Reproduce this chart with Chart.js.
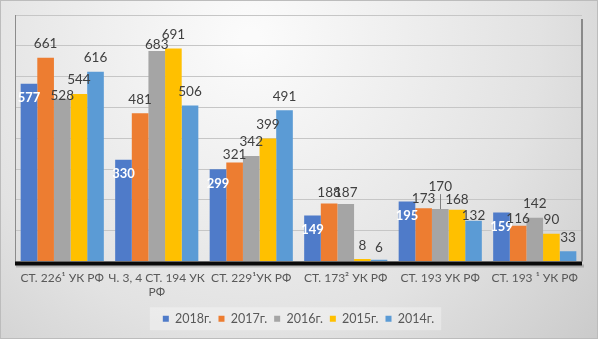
<!DOCTYPE html>
<html>
<head>
<meta charset="utf-8">
<script src="https://cdn.jsdelivr.net/npm/chart.js@4/dist/chart.umd.min.js"></script>
<style>
  html, body { margin: 0; padding: 0; background: #ffffff; }
  #wrap { width: 598px; height: 339px; position: relative; }
</style>
</head>
<body>
<div id="wrap"><canvas id="c" width="598" height="339"></canvas></div>
<script>
// ---- data ----
const categories = [
  'СТ. 226¹ УК РФ',
  ['Ч. 3, 4 СТ. 194 УК', 'РФ'],
  'СТ. 229¹УК РФ',
  'СТ. 173² УК РФ',
  'СТ. 193 УК РФ',
  'СТ. 193 ¹ УК РФ'
];
const seriesNames = ['2018г.', '2017г.', '2016г.', '2015г.', '2014г.'];
const v2018 = [577, 330, 299, 149, 195, 159];
const v2017 = [661, 481, 321, 188, 173, 116];
const v2016 = [528, 683, 342, 187, 170, 142];
const v2015 = [544, 691, 399, 8, 168, 90];
const v2014 = [616, 506, 491, 6, 132, 33];
const yTicks = [0, 100, 200, 300, 400, 500, 600, 700, 800];

// ---- style ----
const colors = ['#4F7BC9', '#ED7D31', '#A5A5A5', '#FFC000', '#5B9BD5'];
const FONT = "Lato, 'Open Sans', 'DejaVu Sans', sans-serif";
// label placement nudges in px (series index, category index); negative = moved up with leader line
const labelNudges = [
  { s: 1, c: 2, dy: 6 }, { s: 1, c: 3, dy: 3 }, { s: 1, c: 4, dy: 4 }, { s: 1, c: 5, dy: 7 },
  { s: 2, c: 0, dy: 10.5 }, { s: 2, c: 1, dy: 7.5 }, { s: 2, c: 3, dy: 3 }, { s: 2, c: 4, dy: -8 },
  { s: 3, c: 3, dy: 1 }, { s: 3, c: 4, dy: 4 },
  { s: 4, c: 3, dy: 1.5 }, { s: 4, c: 4, dy: 9 }
];

const seriesValues = [v2018, v2017, v2016, v2015, v2014];

const bgPlugin = {
  id: 'bg',
  beforeDraw(chart) {
    const { ctx, width, height } = chart;
    ctx.save();
    const g = ctx.createRadialGradient(250, 40, 10, 250, 40, 520);
    g.addColorStop(0, '#fbfbfb');
    g.addColorStop(0.55, '#e2e2e2');
    g.addColorStop(1, '#c2c2c2');
    ctx.fillStyle = g;
    ctx.fillRect(0, 0, width, height);
    ctx.strokeStyle = '#bcbcbc';
    ctx.lineWidth = 1;
    ctx.strokeRect(0.5, 0.5, width - 1, height - 1);
    // legend box
    const lg = chart.legend;
    if (lg && lg.legendHitBoxes && lg.legendHitBoxes.length) {
      const hb = lg.legendHitBoxes;
      const minX = Math.min(...hb.map(b => b.left));
      const maxX = Math.max(...hb.map(b => b.left + b.width));
      const cy = hb[0].top + hb[0].height / 2;
      ctx.fillStyle = 'rgba(255,255,255,0.32)';
      ctx.fillRect(minX - 13, cy - 11.5, (maxX - minX) + 20, 23);
    }
    ctx.restore();
  },
  afterDatasetsDraw(chart) {
    const { ctx, chartArea: a } = chart;
    ctx.save();
    // right frame line
    ctx.fillStyle = '#8a8a8a';
    ctx.fillRect(a.right - 1, a.top + 4, 2, a.bottom - a.top - 4);
    // bottom thick axis with shadow
    ctx.fillStyle = 'rgba(0,0,0,0.18)';
    ctx.fillRect(a.left + 1, a.bottom + 3, a.right - a.left + 1, 3);
    ctx.fillStyle = '#0a0a0a';
    ctx.fillRect(a.left, a.bottom, a.right - a.left, 4);
    // value labels
    ctx.textAlign = 'center';
    ctx.textBaseline = 'middle';
    chart.data.datasets.forEach((ds, di) => {
      const meta = chart.getDatasetMeta(di);
      meta.data.forEach((bar, i) => {
        const val = ds.data[i];
        if (di === 0) {
          ctx.font = 'bold 13px ' + FONT;
          ctx.fillStyle = '#ffffff';
          ctx.fillText(String(val), bar.x, bar.y + 14);
        } else {
          ctx.font = '13.5px ' + FONT;
          ctx.fillStyle = '#404040';
          const n = labelNudges.find(l => l.s === di && l.c === i);
          let y = bar.y - 14 + (n ? n.dy : 0);
          if (n && n.dy < 0) {
            ctx.strokeStyle = '#7f7f7f';
            ctx.lineWidth = 1;
            ctx.beginPath();
            ctx.moveTo(Math.round(bar.x) + 0.5, y + 7);
            ctx.lineTo(Math.round(bar.x) + 0.5, bar.y);
            ctx.stroke();
          }
          ctx.fillText(String(val), bar.x, y);
        }
      });
    });
    ctx.restore();
  }
};

new Chart(document.getElementById('c'), {
  type: 'bar',
  data: {
    labels: categories,
    datasets: seriesNames.map((name, k) => ({
      label: name,
      data: seriesValues[k],
      backgroundColor: colors[k],
      borderWidth: 0,
      categoryPercentage: 0.88,
      barPercentage: 1.0
    }))
  },
  options: {
    responsive: false,
    animation: false,
    devicePixelRatio: 1,
    layout: { padding: { left: 15, top: 15, right: 16, bottom: 4 } },
    plugins: {
      tooltip: { enabled: false },
      legend: {
        position: 'bottom',
        labels: {
          boxWidth: 6,
          boxHeight: 6,
          padding: 7,
          color: '#595959',
          font: { family: FONT, size: 12.5 }
        }
      }
    },
    scales: {
      x: {
        grid: { display: false, drawTicks: false },
        border: { display: false },
        ticks: {
          color: '#595959',
          padding: 9,
          maxRotation: 0,
          autoSkip: false,
          font: { family: FONT, size: 12, lineHeight: 1.2 }
        },
        afterFit(scale) { scale.height = 44; }
      },
      y: {
        min: yTicks[0],
        max: yTicks[yTicks.length - 1],
        afterBuildTicks(scale) { scale.ticks = yTicks.map(v => ({ value: v })); },
        ticks: { display: false },
        grid: { color: '#c6c6c6', lineWidth: 1, drawTicks: false },
        border: { display: true, color: '#8c8c8c', width: 1 },
        afterFit(scale) { scale.width = 0; }
      }
    }
  },
  plugins: [bgPlugin]
});
</script>
</body>
</html>
